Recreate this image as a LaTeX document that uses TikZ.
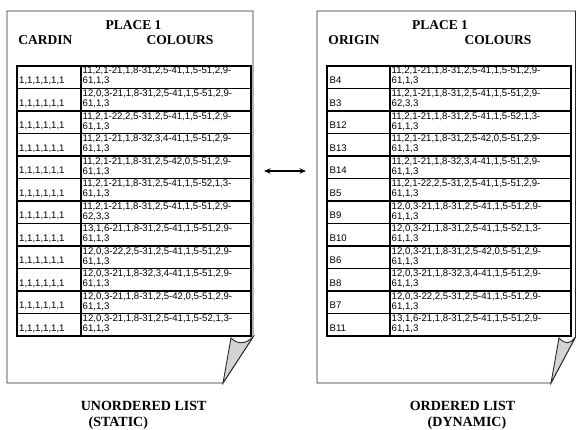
\documentclass[tikz,border=0pt]{standalone}
\usepackage{fontspec}
\setmainfont{Liberation Serif}
\newfontfamily\cellfont{Liberation Sans}
\usepackage{tikz}
\usetikzlibrary{arrows.meta}
\definecolor{foldGray}{RGB}{212,212,212}
\definecolor{pageEdge}{RGB}{40,40,40}

\begin{document}
\begin{tikzpicture}[x=1pt,y=-1pt,
  head/.style={font=\bfseries\fontsize{13.5}{14}\selectfont,anchor=base,inner sep=0},
  caption/.style={font=\bfseries\fontsize{14}{16}\selectfont,anchor=base,inner sep=0},
  cell/.style={font=\cellfont\fontsize{9.6}{10}\selectfont,inner sep=0,align=left},
  cellline/.style={draw=black,line width=1.1pt},
  page/.style={draw=pageEdge,line width=0.9pt,line join=miter},
  fold/.style={page,fill=foldGray},
  link/.style={line width=1.6pt,{Stealth[length=6.5pt,width=5.5pt]}-{Stealth[length=6.5pt,width=5.5pt]}}]
  \useasboundingbox (0,0) rectangle (576,430);
  % left page
  \draw[page](7,11)--(253,11)--(253,337)--(223,383)--(7,383)--cycle;
  \filldraw[fold](223,383)--(231,338) .. controls (238,345) and (246,344) .. (253,337)--cycle;
  \node[head](placeL) at (133.5,29.3){PLACE 1};
  \node[head](cardin) at (45.3,44.7){CARDIN};
  \node[head](coloursL) at (180,44.7){COLOURS};
  \foreach \da/\db [count=\i from 0] in {
    {11,2,1-21,1,8-31,2,5-41,1,5-51,2,9-}/{61,1,3},
    {12,0,3-21,1,8-31,2,5-41,1,5-51,2,9-}/{61,1,3},
    {11,2,1-22,2,5-31,2,5-41,1,5-51,2,9-}/{61,1,3},
    {11,2,1-21,1,8-32,3,4-41,1,5-51,2,9-}/{61,1,3},
    {11,2,1-21,1,8-31,2,5-42,0,5-51,2,9-}/{61,1,3},
    {11,2,1-21,1,8-31,2,5-41,1,5-52,1,3-}/{61,1,3},
    {11,2,1-21,1,8-31,2,5-41,1,5-51,2,9-}/{62,3,3},
    {13,1,6-21,1,8-31,2,5-41,1,5-51,2,9-}/{61,1,3},
    {12,0,3-22,2,5-31,2,5-41,1,5-51,2,9-}/{61,1,3},
    {12,0,3-21,1,8-32,3,4-41,1,5-51,2,9-}/{61,1,3},
    {12,0,3-21,1,8-31,2,5-42,0,5-51,2,9-}/{61,1,3},
    {12,0,3-21,1,8-31,2,5-41,1,5-52,1,3-}/{61,1,3}}{
    \draw[cellline](17,66+22.5*\i) rectangle (81,88.5+22.5*\i);
    \draw[cellline](81,66+22.5*\i) rectangle (251,88.5+22.5*\i);
    \node[cell,anchor=base west](lk\i) at (19,84+22.5*\i){1,1,1,1,1,1};
    \node[cell,anchor=north west](lc\i) at (82.5,67.1+22.5*\i){\da\\\db};
  }
  \node[caption](unordered) at (143.7,410){UNORDERED LIST};
  \node[caption](static) at (118.3,426){(STATIC)};
  % right page
  \draw[page](317,11)--(575.5,11)--(575.5,337)--(551,383)--(317,383)--cycle;
  \filldraw[fold](551,383)--(559,338) .. controls (566,345) and (570,344) .. (575.5,337)--cycle;
  \node[head](placeR) at (440,29.3){PLACE 1};
  \node[head](origin) at (354,44.7){ORIGIN};
  \node[head](coloursR) at (498,44.7){COLOURS};
  \foreach \bk/\da/\db [count=\i from 0] in {
    B4/{11,2,1-21,1,8-31,2,5-41,1,5-51,2,9-}/{61,1,3},
    B3/{11,2,1-21,1,8-31,2,5-41,1,5-51,2,9-}/{62,3,3},
    B12/{11,2,1-21,1,8-31,2,5-41,1,5-52,1,3-}/{61,1,3},
    B13/{11,2,1-21,1,8-31,2,5-42,0,5-51,2,9-}/{61,1,3},
    B14/{11,2,1-21,1,8-32,3,4-41,1,5-51,2,9-}/{61,1,3},
    B5/{11,2,1-22,2,5-31,2,5-41,1,5-51,2,9-}/{61,1,3},
    B9/{12,0,3-21,1,8-31,2,5-41,1,5-51,2,9-}/{61,1,3},
    B10/{12,0,3-21,1,8-31,2,5-41,1,5-52,1,3-}/{61,1,3},
    B6/{12,0,3-21,1,8-31,2,5-42,0,5-51,2,9-}/{61,1,3},
    B8/{12,0,3-21,1,8-32,3,4-41,1,5-51,2,9-}/{61,1,3},
    B7/{12,0,3-22,2,5-31,2,5-41,1,5-51,2,9-}/{61,1,3},
    B11/{13,1,6-21,1,8-31,2,5-41,1,5-51,2,9-}/{61,1,3}}{
    \draw[cellline](327,66+22.5*\i) rectangle (390,88.5+22.5*\i);
    \draw[cellline](390,66+22.5*\i) rectangle (571,88.5+22.5*\i);
    \node[cell,anchor=base west](rk\i) at (329.5,84+22.5*\i){\bk};
    \node[cell,anchor=north west](rc\i) at (391.5,67.1+22.5*\i){\da\\\db};
  }
  \node[caption](ordered) at (462.5,410){ORDERED LIST};
  \node[caption](dynamic) at (467,426){(DYNAMIC)};
  \coordinate (arrowL) at (264,171);
  \coordinate (arrowR) at (306,171);
  \draw[link](arrowL)--(arrowR);
\end{tikzpicture}
\end{document}
